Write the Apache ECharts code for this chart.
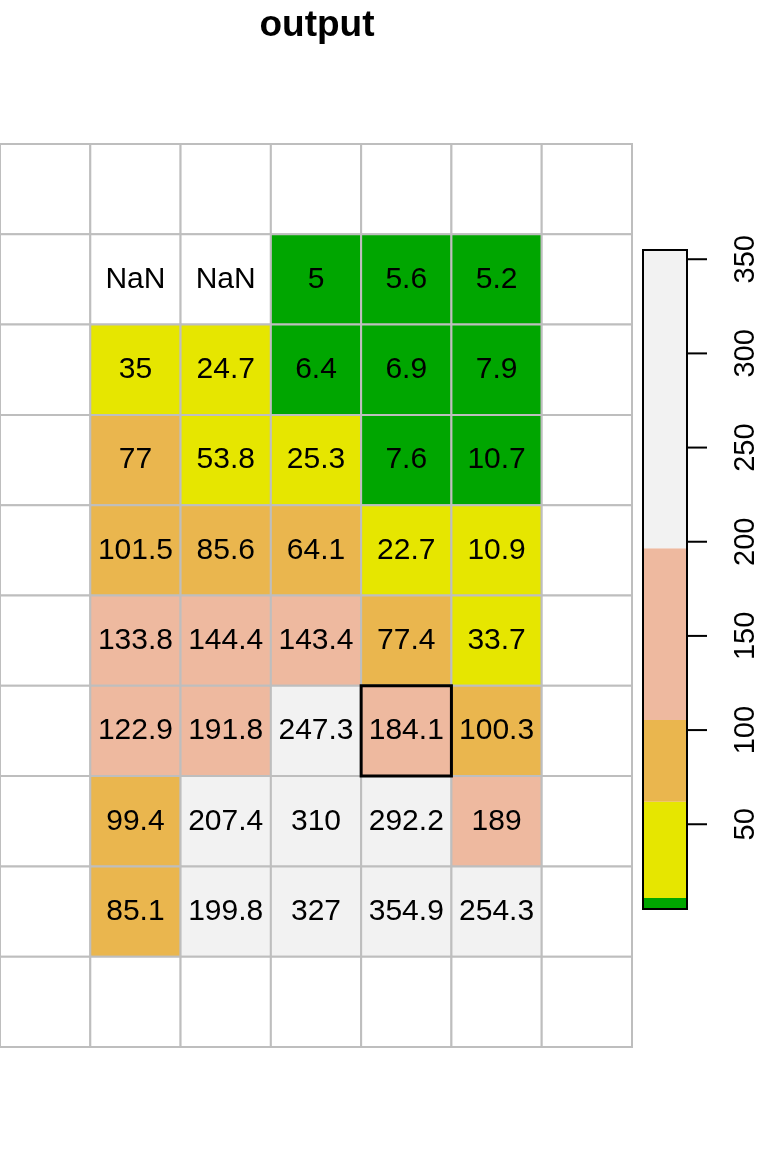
<!DOCTYPE html>
<html><head><meta charset="utf-8">
<script src="https://cdn.jsdelivr.net/npm/echarts@6/dist/echarts.min.js"></script>
<style>html,body{margin:0;padding:0;background:#fff}#c{width:768px;height:1152px}</style>
</head><body><div id="c"></div>
<script>
// ---- data ----
const columns = ['c1', 'c2', 'c3', 'c4', 'c5', 'c6', 'c7'];
const rows = ['r1', 'r2', 'r3', 'r4', 'r5', 'r6', 'r7', 'r8', 'r9', 'r10'];
const row1  = [null, null,  null,  null,  null,  null,  null];
const row2  = [null, NaN,   NaN,   5,     5.6,   5.2,   null];
const row3  = [null, 35,    24.7,  6.4,   6.9,   7.9,   null];
const row4  = [null, 77,    53.8,  25.3,  7.6,   10.7,  null];
const row5  = [null, 101.5, 85.6,  64.1,  22.7,  10.9,  null];
const row6  = [null, 133.8, 144.4, 143.4, 77.4,  33.7,  null];
const row7  = [null, 122.9, 191.8, 247.3, 184.1, 100.3, null];
const row8  = [null, 99.4,  207.4, 310,   292.2, 189,   null];
const row9  = [null, 85.1,  199.8, 327,   354.9, 254.3, null];
const row10 = [null, null,  null,  null,  null,  null,  null];
const gridRows = [row1, row2, row3, row4, row5, row6, row7, row8, row9, row10];
const breaks = [5, 10.8, 62, 105.3, 196.5, 354.9];
const barTicks = [50, 100, 150, 200, 250, 300, 350];
const highlightCell = [4, 6];
const titleText = 'output';

// ---- style ----
const palette = ['#00A600', '#E6E600', '#EAB64E', '#EEB99F', '#F2F2F2'];
const FONT = '"Liberation Sans", Arial, Helvetica, sans-serif';

function colorFor(v) {
  if (v === null || isNaN(v)) return '#FFFFFF';
  for (let i = 0; i < palette.length; i++) {
    if (v <= breaks[i + 1]) return palette[i];
  }
  return palette[palette.length - 1];
}

const cells = [];
const cellValues = [];
gridRows.forEach((r, ri) => r.forEach((v, ci) => { cells.push([ci, ri]); cellValues.push(v); }));

const bands = [];
for (let i = 0; i < palette.length; i++) bands.push([breaks[i], breaks[i + 1], i]);

const chart = echarts.init(document.getElementById('c'), null, { renderer: 'canvas' });
chart.setOption({
  animation: false,
  backgroundColor: '#ffffff',
  title: {
    text: titleText, left: 312, top: 2, textAlign: 'center',
    textStyle: { fontFamily: FONT, fontWeight: 'bold', fontSize: 37, color: '#000' }
  },
  grid: [
    { left: 0, top: 144, width: 632, height: 903 },
    { left: 643, top: 250, width: 44, height: 659 }
  ],
  xAxis: [
    { gridIndex: 0, type: 'category', data: columns, show: false },
    { gridIndex: 1, type: 'value', min: 0, max: 1, show: false }
  ],
  yAxis: [
    { gridIndex: 0, type: 'category', data: rows, inverse: true, show: false },
    {
      gridIndex: 1, type: 'value', min: breaks[0], max: breaks[breaks.length - 1], position: 'right',
      axisLine: { show: true, lineStyle: { color: '#000', width: 1 } },
      axisTick: { show: false },
      axisLabel: { customValues: barTicks, rotate: 90, fontSize: 29, color: '#000', fontFamily: FONT, margin: 44 },
      splitLine: { show: false }
    }
  ],
  series: [
    {
      type: 'custom', xAxisIndex: 0, yAxisIndex: 0, data: cells, encode: { x: 0, y: 1 },
      renderItem: function (params, api) {
        const v = cellValues[params.dataIndex];
        const p = api.coord([api.value(0), api.value(1)]);
        const s = api.size([1, 1]);
        const children = [{
          type: 'rect',
          shape: { x: p[0] - s[0] / 2, y: p[1] - s[1] / 2, width: s[0], height: s[1] },
          style: { fill: colorFor(v), stroke: '#BEBEBE', lineWidth: 2 }
        }];
        if (v !== null) {
          children.push({
            type: 'text',
            style: { text: String(v), x: p[0], y: p[1], align: 'center', verticalAlign: 'middle',
              font: '30px ' + FONT, fill: '#000' }
          });
        }
        return { type: 'group', children: children };
      }
    },
    {
      type: 'custom', xAxisIndex: 0, yAxisIndex: 0, data: [highlightCell], encode: { x: 0, y: 1 }, z: 5,
      renderItem: function (params, api) {
        const p = api.coord([api.value(0), api.value(1)]);
        const s = api.size([1, 1]);
        return { type: 'rect', shape: { x: p[0] - s[0] / 2, y: p[1] - s[1] / 2, width: s[0], height: s[1] },
          style: { fill: 'none', stroke: '#000', lineWidth: 3 } };
      }
    },
    {
      type: 'custom', xAxisIndex: 1, yAxisIndex: 1, data: bands,
      renderItem: function (params, api) {
        const p0 = api.coord([0, api.value(0)]);
        const p1 = api.coord([1, api.value(1)]);
        return { type: 'rect', shape: { x: p0[0], y: p1[1], width: p1[0] - p0[0], height: p0[1] - p1[1] },
          style: { fill: palette[api.value(2)] } };
      }
    },
    {
      type: 'custom', xAxisIndex: 1, yAxisIndex: 1, data: [[breaks[0], breaks[breaks.length - 1]]], z: 5,
      renderItem: function (params, api) {
        const p0 = api.coord([0, api.value(0)]);
        const p1 = api.coord([1, api.value(1)]);
        return { type: 'rect', shape: { x: p0[0], y: p1[1], width: p1[0] - p0[0], height: p0[1] - p1[1] },
          style: { fill: 'none', stroke: '#000', lineWidth: 2 } };
      }
    },
    {
      type: 'custom', xAxisIndex: 1, yAxisIndex: 1, data: barTicks.map(t => [1, t]), encode: { x: 0, y: 1 },
      clip: false, z: 5,
      renderItem: function (params, api) {
        const p = api.coord([api.value(0), api.value(1)]);
        return { type: 'line', shape: { x1: p[0], y1: p[1], x2: p[0] + 20, y2: p[1] },
          style: { stroke: '#000', lineWidth: 2 } };
      }
    }
  ]
});
</script></body></html>
